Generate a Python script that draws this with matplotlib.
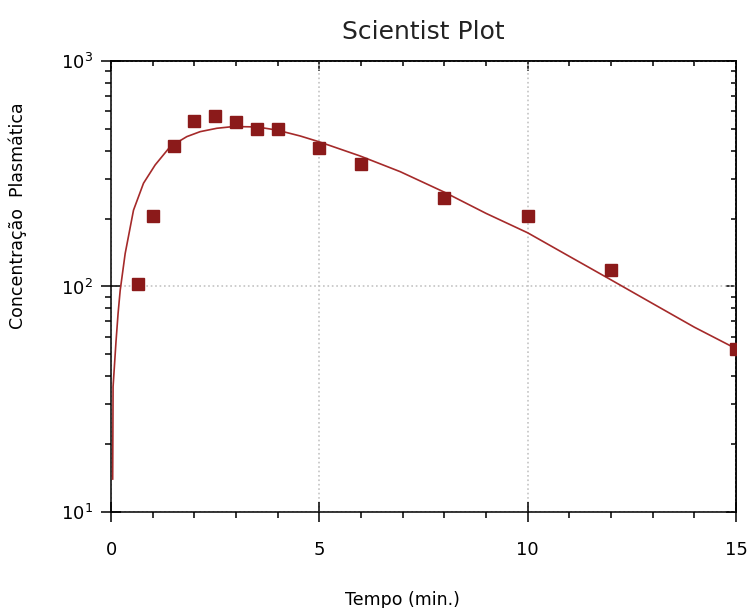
import numpy as np
import matplotlib.pyplot as plt
from matplotlib.ticker import FixedLocator, LogLocator, NullFormatter

# observed points
t_obs = [0.65, 1.0, 1.5, 2.0, 2.5, 3.0, 3.5, 4.0, 5.0, 6.0, 8.0, 10.0, 12.0, 15.0]
c_obs = [103, 206, 421, 543, 572, 538, 499, 499, 411, 349, 246, 206, 118, 53]

# fitted curve
t_fit = [0.04, 0.05, 0.12, 0.17, 0.22, 0.34, 0.54, 0.78, 1.06, 1.42, 1.82, 2.14,
         2.54, 2.94, 3.5, 3.98, 4.54, 4.98, 5.98, 6.94, 8.0, 9.0, 10.0, 11.0,
         12.0, 13.0, 14.0, 15.0]
c_fit = [14, 36, 57, 76, 96, 140, 218, 287, 346, 417, 462, 486,
         503, 512, 510, 494, 465, 439, 379, 323, 262, 211, 173, 136,
         107, 84, 66, 53]

col = '#8b1a1a'

fig = plt.figure(figsize=(7.47, 6.08), dpi=100)
ax = fig.add_axes([0.1486, 0.1579, 0.8367, 0.7418])

ax.plot(t_fit, c_fit, '-', color='#a52a2a', lw=1.2, zorder=3)
ax.plot(t_obs, c_obs, 's', color=col, ms=8.5, mec=col, zorder=4)

ax.set_yscale('log')
ax.set_xlim(0, 15)
ax.set_ylim(10, 1000)

ax.xaxis.set_major_locator(FixedLocator([0, 5, 10, 15]))
ax.xaxis.set_minor_locator(FixedLocator(np.arange(0, 16, 1)))
ax.yaxis.set_major_locator(LogLocator(base=10, numticks=10))
ax.yaxis.set_minor_locator(LogLocator(base=10, subs=np.arange(2, 10), numticks=20))
ax.yaxis.set_minor_formatter(NullFormatter())

for s in ax.spines.values():
    s.set_linewidth(1.1)

ax.tick_params(which='major', direction='inout', length=14, width=1.1,
               labelsize=13, top=False, right=False)
ax.tick_params(axis='x', which='major', pad=14)
ax.tick_params(axis='y', which='major', pad=6)
ax.tick_params(which='minor', direction='out', length=4.5, width=1.1,
               top=False, right=False)

# top / right ticks point inwards
axt = ax.secondary_xaxis('top')
axt.xaxis.set_major_locator(FixedLocator([0, 5, 10, 15]))
axt.xaxis.set_minor_locator(FixedLocator(np.arange(0, 16, 1)))
axt.tick_params(which='major', direction='in', length=7, width=1.1, labeltop=False)
axt.tick_params(which='minor', direction='in', length=3.3, width=1.1)
axt.spines['top'].set_linewidth(1.1)

axr = ax.secondary_yaxis('right')
axr.set_yscale('log')
axr.yaxis.set_major_locator(LogLocator(base=10, numticks=10))
axr.yaxis.set_minor_locator(LogLocator(base=10, subs=np.arange(2, 10), numticks=20))
axr.tick_params(which='major', direction='in', length=7, width=1.1, labelright=False)
axr.tick_params(which='minor', direction='in', length=3.3, width=1.1, labelright=False)
axr.spines['right'].set_linewidth(1.1)

ax.grid(True, which='major', ls=':', color='#c4c4c4', lw=1.2)

ax.set_title('Scientist Plot', fontsize=18, pad=16, color='#222222')
ax.set_xlabel('Tempo (min.)', fontsize=12.5)
ax.set_ylabel('Concentração  Plasmática', fontsize=12.5)
ax.xaxis.set_label_coords(0.4656, -0.176)
ax.yaxis.set_label_coords(-0.134, 0.656)

fig.savefig('out.png', dpi=100)
